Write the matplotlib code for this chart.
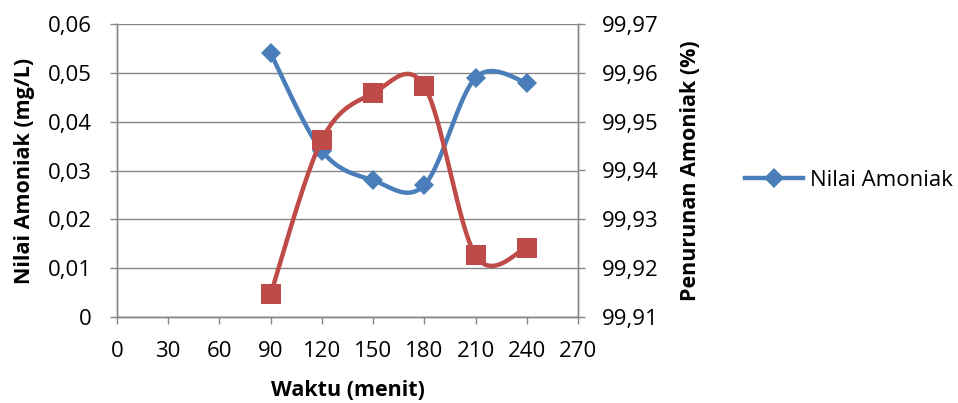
import numpy as np
import matplotlib
matplotlib.use('Agg')
import matplotlib.pyplot as plt
from matplotlib.ticker import FuncFormatter

# waktu kontak (menit) dan hasil pengukuran
waktu = [90, 120, 150, 180, 210, 240]
nilai_amoniak = [0.054, 0.034, 0.028, 0.027, 0.049, 0.048]
penurunan_amoniak = [99.9147, 99.9463, 99.9558, 99.9573, 99.9226, 99.9242]
x_ticks = list(range(0, 271, 30))

BLUE = '#4a7ebb'
RED = '#be4b48'
GRAY = '#868686'

plt.rcParams['font.family'] = ['Open Sans', 'DejaVu Sans']


def smooth(x, y, n=40):
    # bezier smoothing (catmull-rom style, tension 1/6) like spreadsheet charts
    p = np.column_stack([x, y]).astype(float)
    out = []
    for i in range(len(p) - 1):
        p0 = p[i - 1] if i > 0 else p[i]
        p1 = p[i]
        p2 = p[i + 1]
        p3 = p[i + 2] if i + 2 < len(p) else p[i + 1]
        c1 = p1 + (p2 - p0) / 6.0
        c2 = p2 - (p3 - p1) / 6.0
        t = np.linspace(0, 1, n)[:, None]
        seg = ((1 - t) ** 3) * p1 + 3 * ((1 - t) ** 2) * t * c1 + 3 * (1 - t) * t ** 2 * c2 + t ** 3 * p2
        out.append(seg if i == 0 else seg[1:])
    seg = np.vstack(out)
    return seg[:, 0], seg[:, 1]


def comma_fmt(v, pos):
    if abs(v) < 1e-12:
        return '0'
    return ('%.2f' % v).replace('.', ',')


fig = plt.figure(figsize=(9.58, 4.03), dpi=100)
ax = fig.add_axes([117 / 958, 86 / 403, 461 / 958, 293 / 403])
ax2 = ax.twinx()

sx, sy = smooth(waktu, nilai_amoniak)
ax.plot(sx, sy, color=BLUE, lw=3.2, solid_capstyle='round', zorder=3)
ax.plot(waktu, nilai_amoniak, linestyle='none', marker='D', ms=10.5, color=BLUE, mew=0, zorder=4)

rx, ry = smooth(waktu, penurunan_amoniak)
ax2.plot(rx, ry, color=RED, lw=3.2, solid_capstyle='round', zorder=3)
ax2.plot(waktu, penurunan_amoniak, linestyle='none', marker='s', ms=14, color=RED, mew=0, zorder=4)

ax.set_xlim(0, 270)
ax.set_xticks(x_ticks)
ax.set_ylim(0, 0.06)
ax.set_yticks(np.arange(0, 0.0601, 0.01))
ax2.set_ylim(99.91, 99.97)
ax2.set_yticks(np.arange(99.91, 99.9701, 0.01))
ax.yaxis.set_major_formatter(FuncFormatter(comma_fmt))
ax2.yaxis.set_major_formatter(FuncFormatter(comma_fmt))

ax.yaxis.grid(True, color=GRAY, lw=1.0)
ax.set_axisbelow(True)

for a in (ax, ax2):
    for side in ('left', 'right', 'bottom'):
        a.spines[side].set_color(GRAY)
        a.spines[side].set_linewidth(1.0)
    a.spines['top'].set_visible(False)

ax.tick_params(axis='x', direction='out', length=5, width=1, color=GRAY, labelsize=16, pad=12)
ax.tick_params(axis='y', direction='out', length=5, width=1, color=GRAY, labelsize=16, pad=13)
ax2.tick_params(axis='y', direction='out', length=5, width=1, color=GRAY, labelsize=16, pad=12)

ax.set_xlabel('Waktu (menit)', fontsize=15.5, fontweight='bold', va='center')
ax.xaxis.set_label_coords(0.5, -(390 - 317) / 293)
ax.set_ylabel('Nilai Amoniak (mg/L)', fontsize=15.5, fontweight='bold', va='center')
ax.yaxis.set_label_coords((25 - 117) / 461, 0.5)
ax2.set_ylabel('Penurunan Amoniak (%)', fontsize=15.5, fontweight='bold', va='center')
ax2.yaxis.set_label_coords((691 - 117) / 461, 0.5)

fig.legend([plt.Line2D([], [], color=BLUE, lw=3.2, marker='D', ms=10.5, mew=0)],
           ['Nilai Amoniak'], loc='center left', bbox_to_anchor=(0.778, 0.553),
           frameon=False, fontsize=16, handlelength=2.6, handletextpad=0.3,
           borderaxespad=0, borderpad=0)

fig.savefig('out.png', dpi=100)
